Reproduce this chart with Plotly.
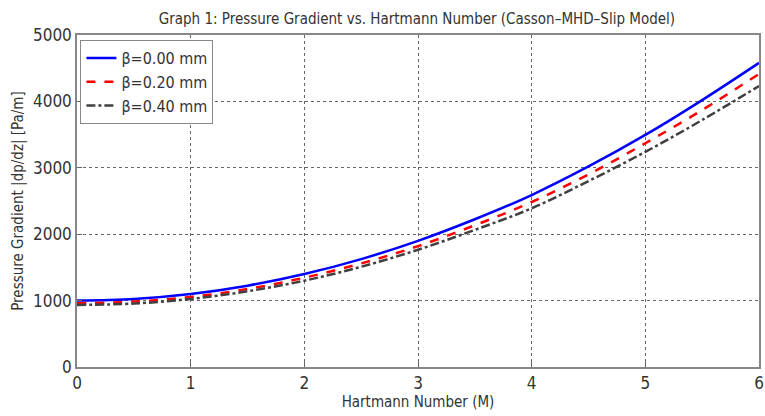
import plotly.graph_objects as go

M = [0, 0.5, 1, 1.5, 2, 2.5, 3, 3.5, 4, 4.5, 5, 5.5, 6]
beta000 = [1000, 1025, 1100, 1225, 1400, 1625, 1900, 2225, 2590, 3020, 3495, 4020, 4580]
beta020 = [960, 985, 1055, 1175, 1345, 1560, 1820, 2135, 2485, 2900, 3370, 3870, 4413]
beta040 = [935, 955, 1025, 1140, 1300, 1510, 1765, 2065, 2390, 2800, 3240, 3720, 4232]
names = ["β=0.00 mm", "β=0.20 mm", "β=0.40 mm"]
colors = ["#0000ff", "#ff0000", "#404040"]
dashes = ["solid", "dash", "dashdot"]

FONT = "Liberation Sans Narrow, DejaVu Sans Condensed, sans-serif"

fig = go.Figure()
for ys, n, c, d in zip([beta000, beta020, beta040], names, colors, dashes):
    fig.add_trace(go.Scatter(x=M, y=ys, mode="lines", name=n,
                             line=dict(color=c, width=2.5, dash=d, shape="spline")))

fig.update_layout(
    width=765, height=416,
    margin=dict(l=77, r=1, t=35, b=49),
    paper_bgcolor="white", plot_bgcolor="white",
    font=dict(family=FONT, color="#333333", size=15),
    title=dict(text="Graph 1: Pressure Gradient vs. Hartmann Number (Casson–MHD–Slip Model)",
               x=0.545, xanchor="center", y=0.955, yanchor="middle",
               font=dict(size=15, color="#333333")),
    legend=dict(x=0.005, y=0.985, xanchor="left", yanchor="top",
                bgcolor="white", bordercolor="#888888", borderwidth=1,
                font=dict(size=16, color="#333333"), tracegroupgap=0),
    showlegend=True,
)
fig.update_xaxes(range=[0, 6], tickvals=[0, 1, 2, 3, 4, 5, 6],
                 showline=True, linecolor="#888888", linewidth=1.5, mirror=True,
                 showgrid=True, gridcolor="#666666", griddash="dot", gridwidth=1,
                 ticks="inside", ticklen=5, tickcolor="#666666",
                 zeroline=False, tickfont=dict(size=17), ticklabeloverflow="allow",
                 title=dict(text="Hartmann Number (M)", standoff=4, font=dict(size=15)))
fig.update_yaxes(range=[0, 5000], tickvals=[0, 1000, 2000, 3000, 4000, 5000],
                 showline=True, linecolor="#888888", linewidth=1.5, mirror=True,
                 showgrid=True, gridcolor="#666666", griddash="dot", gridwidth=1,
                 ticks="inside", ticklen=5, tickcolor="#666666",
                 zeroline=False, tickfont=dict(size=17), ticklabeloverflow="allow",
                 title=dict(text="Pressure Gradient |dp/dz| [Pa/m]", standoff=6, font=dict(size=15)))

fig.write_html("out.html")
